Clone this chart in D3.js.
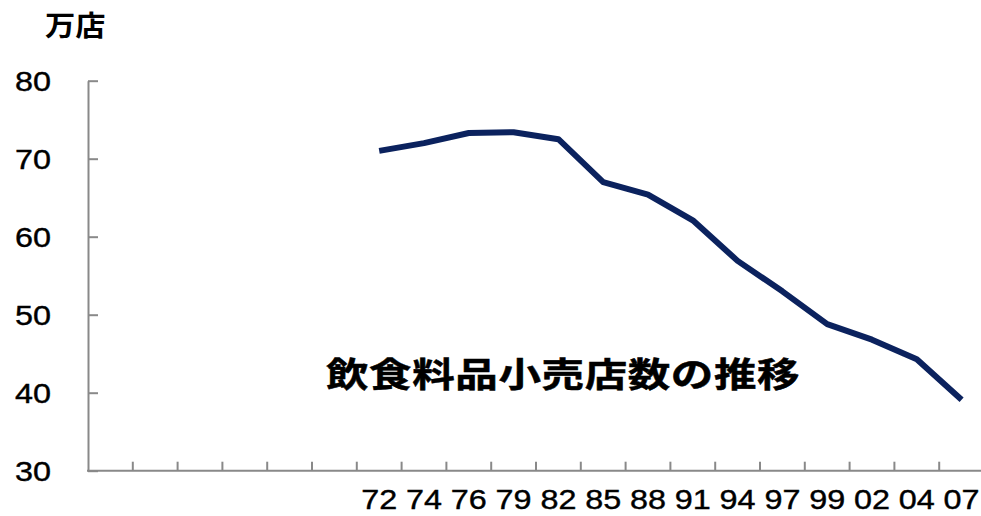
<!DOCTYPE html>
<html>
<head>
<meta charset="utf-8">
<script src="https://cdn.jsdelivr.net/npm/d3@7"></script>
<style>
  html, body { margin: 0; padding: 0; background: #fff; }
  svg { display: block; }
</style>
</head>
<body>
<svg id="chart" width="981" height="516"></svg>
<script>
// Category slots along the x axis: six unlabeled slots, then survey years
const categories = ["", "", "", "", "", "", "72", "74", "76", "79", "82", "85", "88", "91", "94", "97", "99", "02", "04", "07"];
// Years that carry a value (first labeled slot onward)
const years = ["72", "74", "76", "79", "82", "85", "88", "91", "94", "97", "99", "02", "04", "07"];
// Number of food & beverage retail stores, in units of 10,000 (万店)
const stores = [71.0, 72.0, 73.3, 73.4, 72.5, 67.0, 65.4, 62.1, 56.9, 53.0, 48.8, 46.8, 44.3, 39.1];
// Y axis tick values
const yTicks = [30, 40, 50, 60, 70, 80];

const unitLabel = "万店";
const title = "飲食料品小売店数の推移";

const svg = d3.select("#chart");
const axisColor = "#898989";
const lineColor = "#0b225e";
const digitFont = "'Liberation Sans', Arial, sans-serif";
const cjkFont = "'Noto Sans CJK JP', sans-serif";

const x = d3.scaleBand()
  .domain(d3.range(categories.length))
  .range([88, 88 + 44.8 * categories.length])
  .paddingInner(0).paddingOuter(0);

const y = d3.scaleLinear().domain([30, 80]).range([470.7, 80.7]);

const x0 = x.range()[0];
const yBase = y(30);

// Y axis: ticks point inward
const yAxis = d3.axisLeft(y).tickValues(yTicks).tickSizeInner(-10).tickSizeOuter(0).tickPadding(37);
const gy = svg.append("g").attr("transform", `translate(${x0},0)`).call(yAxis);
gy.select(".domain").attr("stroke", axisColor).attr("stroke-width", 2);
gy.selectAll(".tick line").attr("stroke", axisColor).attr("stroke-width", 2);
gy.selectAll(".tick text")
  .attr("fill", "#000")
  .attr("font-family", digitFont)
  .attr("font-size", 28)
  .attr("dy", "0.36em")
  .attr("stroke", "#000").attr("stroke-width", 0.4)
  .attr("textLength", 36)
  .attr("lengthAdjust", "spacingAndGlyphs");

// X axis baseline
svg.append("line")
  .attr("x1", x0 - 1).attr("x2", 981)
  .attr("y1", yBase).attr("y2", yBase)
  .attr("stroke", axisColor).attr("stroke-width", 2);

// X ticks at slot boundaries, pointing up
svg.append("g").selectAll("line")
  .data(d3.range(1, categories.length))
  .join("line")
  .attr("x1", i => x(i)).attr("x2", i => x(i))
  .attr("y1", yBase).attr("y2", yBase - 9)
  .attr("stroke", axisColor).attr("stroke-width", 2);

// X labels centered in their slots
svg.append("g").selectAll("text")
  .data(d3.range(categories.length).filter(i => categories[i] !== ""))
  .join("text")
  .attr("x", i => x(i) + x.bandwidth() / 2)
  .attr("y", 509)
  .attr("text-anchor", "middle")
  .attr("font-family", digitFont)
  .attr("font-size", 28)
  .attr("stroke", "#000").attr("stroke-width", 0.4)
  .attr("textLength", 36)
  .attr("lengthAdjust", "spacingAndGlyphs")
  .attr("fill", "#000")
  .text(i => categories[i]);

// Store count line
const idx = c => categories.indexOf(c);
const line = d3.line()
  .x((d, i) => x(idx(years[i])) + x.bandwidth() / 2)
  .y(d => y(d));

svg.append("path")
  .datum(stores)
  .attr("d", line)
  .attr("fill", "none")
  .attr("stroke", lineColor)
  .attr("stroke-width", 6)
  .attr("stroke-linejoin", "round");

// Unit label
svg.append("text")
  .attr("transform", "translate(45,24) scale(1.08,1)")
  .attr("dominant-baseline", "central")
  .attr("font-family", cjkFont)
  .attr("font-weight", "bold")
  .attr("font-size", 28)
  .attr("fill", "#000")
  .text(unitLabel);

// Chart title
svg.append("text")
  .attr("transform", "translate(326,372) scale(1.25,1)")
  .attr("dominant-baseline", "central")
  .attr("font-family", cjkFont)
  .attr("font-weight", "bold")
  .attr("font-size", 34)
  .attr("letter-spacing", 0.5)
  .attr("stroke", "#000").attr("stroke-width", 0.5)
  .attr("fill", "#000")
  .text(title);
</script>
</body>
</html>
